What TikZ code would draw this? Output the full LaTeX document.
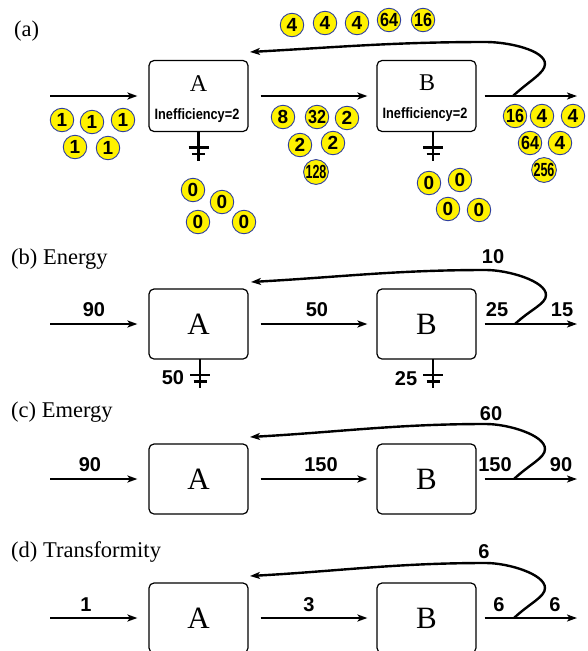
\documentclass[tikz,border=0pt]{standalone}
\usepackage{fontspec}
\setmainfont{Liberation Serif}
\newfontfamily\hv{Liberation Sans}
\usetikzlibrary{arrows.meta}
\definecolor{coinyellow}{HTML}{FFF200}
\definecolor{coinblue}{HTML}{2E3F9E}
\tikzset{
 box/.style={draw, line width=1.2pt, rounded corners=5pt, minimum width=99pt, minimum height=70pt, inner sep=0pt, font=\fontsize{31}{31}\selectfont},
 flow/.style={line width=2.4pt, -{Stealth[length=10pt,width=7pt,inset=2.5pt]}},
 heat/.style={line width=2.3pt},
 coin/.style={circle, fill=coinyellow, draw=coinblue, line width=0.9pt, minimum size=23.5pt, inner sep=0pt, font=\fontsize{19}{19}\hv\bfseries},
 lbl/.style={font=\fontsize{20}{20}\hv\bfseries, inner sep=0pt},
 ttl/.style={font=\fontsize{22.5}{22.5}\selectfont, inner sep=0pt, anchor=base west},
 smallletter/.style={font=\fontsize{24}{24}\selectfont, inner sep=0pt, anchor=base},
 ineff/.style={font=\fontsize{15}{15}\hv\bfseries, inner sep=0pt, anchor=base, xscale=0.85},
}
\newcommand\coin[4][1]{\node[coin] (#2) at (#3) {\scalebox{#1}[1]{#4}};}
\newcommand\heatsink[1]{%
 \draw[heat] (#1) -- ++(0,29);
 \draw[heat] (#1) ++(-10,16) -- ++(20,0);
 \draw[heat] (#1) ++(-6.5,22.5) -- ++(13,0);}
\newcommand\feedback[4]{% start, right, top, tip
 \draw[flow] (#1) .. controls +(16,-15) and +(0,9) .. (#2)
   .. controls +(0,-14) and +(22,0) .. (#3)
   .. controls +(-90,0) and +(90,-5) .. (#4);}
\begin{document}
\begin{tikzpicture}[x=1pt,y=-1pt]
\useasboundingbox (0,0) rectangle (588,651);

% ---------------- (a)
\node[ttl] (ta) at (14,36) {(a)};
\node[box] (A1) at (198.5,96) [minimum height=71pt] {};
\node[box] (B1) at (426.5,96) [minimum height=71pt] {};
\node[smallletter] (A1t) at (198.5,91) {A};
\node[smallletter] (B1t) at (427,90) {B};
\node[ineff] (A1i) at (197,119) {Inefficiency=2};
\node[ineff] (B1i) at (425,118) {Inefficiency=2};
\coordinate (in1) at (50,96);
\coordinate (out1) at (577,96);
\draw[flow, shorten >=11pt] (in1) -- (A1);
\draw[flow, shorten <=12pt, shorten >=9pt] (A1) -- (B1);
\draw[flow, shorten <=8pt] (B1) -- (out1);
\coordinate (s1) at (513,96);
\coordinate (r1) at (545,64);
\coordinate (p1) at (486,42);
\coordinate (t1) at (250,52);
\feedback{s1}{r1}{p1}{t1}
\coordinate (hA1) at (198.5,131.5);
\coordinate (hB1) at (433,131.5);
\heatsink{hA1}
\heatsink{hB1}
% coins
\coin{ca1}{62,120}{1}
\coin{ca2}{92,122}{1}
\coin{ca3}{123,120}{1}
\coin{ca4}{75,147}{1}
\coin{ca5}{108,148}{1}
\coin{cz1}{193,190}{0}
\coin{cz2}{222,202}{0}
\coin{cz3}{198,222}{0}
\coin{cz4}{244,222}{0}
\coin{ct1}{292,25}{4}
\coin{ct2}{325,23}{4}
\coin{ct3}{357,23}{4}
\coin[0.85]{ct4}{389,20}{64}
\coin[0.85]{ct5}{423,20}{16}
\coin{cm1}{283,117}{8}
\coin[0.85]{cm2}{317,117}{32}
\coin{cm3}{347,118}{2}
\coin{cm4}{300,145}{2}
\coin{cm5}{333,143}{2}
\coin[0.66]{cm6}{316,172}{128}
\coin[0.85]{co1}{515,116}{16}
\coin{co2}{542,116}{4}
\coin{co3}{573,116}{4}
\coin[0.85]{co4}{530,143}{64}
\coin{co5}{560,143}{4}
\coin[0.66]{co6}{544,170}{256}
\coin{cy1}{429,183}{0}
\coin{cy2}{460,180}{0}
\coin{cy3}{448,209}{0}
\coin{cy4}{479,210}{0}

% ---------------- (b)
\node[ttl] (tb) at (11,264) {(b) Energy};
\node[box] (A2) at (198.5,324) {A};
\node[box] (B2) at (426.5,324) {B};
\coordinate (in2) at (50,324);
\coordinate (out2) at (577,324);
\draw[flow, shorten >=11pt] (in2) -- (A2);
\draw[flow, shorten <=12pt, shorten >=9pt] (A2) -- (B2);
\draw[flow, shorten <=8pt] (B2) -- (out2);
\coordinate (s2) at (515,324);
\coordinate (r2) at (546,295);
\coordinate (p2) at (486,270);
\coordinate (t2) at (251,282);
\feedback{s2}{r2}{p2}{t2}
\coordinate (hA2) at (200,359);
\coordinate (hB2) at (433,359);
\heatsink{hA2}
\heatsink{hB2}
\node[lbl] (l21) at (94,310) {90};
\node[lbl] (l22) at (317,310) {50};
\node[lbl] (l23) at (497,310) {25};
\node[lbl] (l24) at (562,310) {15};
\node[lbl] (l25) at (493,257) {10};
\node[lbl] (l26) at (173,378) {50};
\node[lbl] (l27) at (406,379) {25};

% ---------------- (c)
\node[ttl] (tc) at (11,417) {(c) Emergy};
\node[box] (A3) at (198.5,479) {A};
\node[box] (B3) at (426.5,479) {B};
\coordinate (in3) at (50,479);
\coordinate (out3) at (577,479);
\draw[flow, shorten >=11pt] (in3) -- (A3);
\draw[flow, shorten <=12pt, shorten >=9pt] (A3) -- (B3);
\draw[flow, shorten <=8pt] (B3) -- (out3);
\coordinate (s3) at (514,479);
\coordinate (r3) at (545,449);
\coordinate (p3) at (486,424);
\coordinate (t3) at (250,437);
\feedback{s3}{r3}{p3}{t3}
\node[lbl] (l31) at (90,465) {90};
\node[lbl] (l32) at (321,465) {150};
\node[lbl] (l33) at (495,465) {150};
\node[lbl] (l34) at (561,465) {90};
\node[lbl] (l35) at (491,414) {60};

% ---------------- (d)
\node[ttl] (td) at (11,557) {(d) Transformity};
\node[box] (A4) at (198.5,618) {A};
\node[box] (B4) at (426.5,618) {B};
\coordinate (in4) at (50,618);
\coordinate (out4) at (577,618);
\draw[flow, shorten >=11pt] (in4) -- (A4);
\draw[flow, shorten <=12pt, shorten >=9pt] (A4) -- (B4);
\draw[flow, shorten <=8pt] (B4) -- (out4);
\coordinate (s4) at (514,618);
\coordinate (r4) at (545,588);
\coordinate (p4) at (486,563);
\coordinate (t4) at (250,576);
\feedback{s4}{r4}{p4}{t4}
\node[lbl] (l41) at (86,605) {1};
\node[lbl] (l42) at (309,605) {3};
\node[lbl] (l43) at (499,605) {6};
\node[lbl] (l44) at (555,605) {6};
\node[lbl] (l45) at (484,552) {6};
\end{tikzpicture}
\end{document}
